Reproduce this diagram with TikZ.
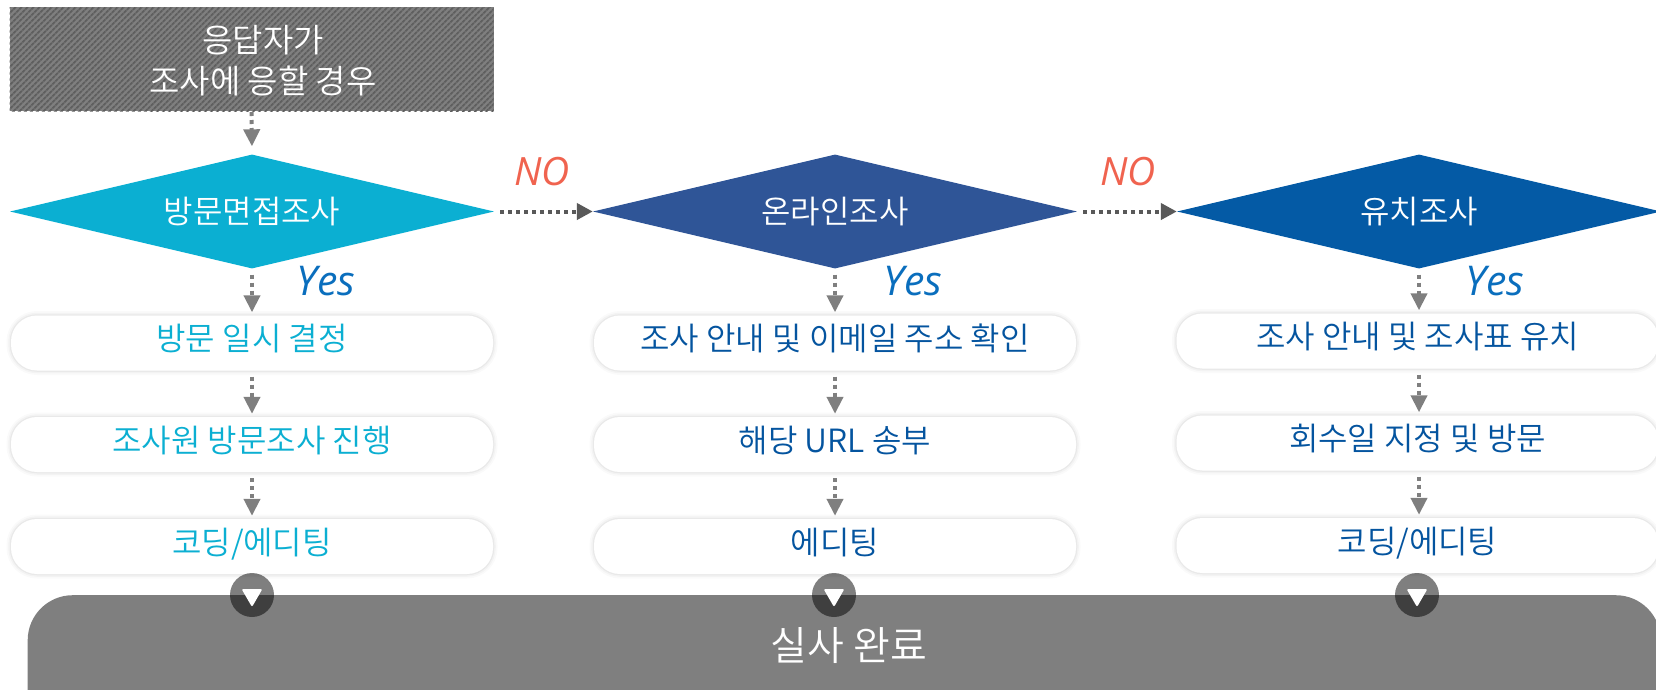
\documentclass[tikz,border=0pt]{standalone}
\usepackage{fontspec}
\setmainfont{Noto Sans CJK KR}[UprightFont={* DemiLight}]
\newfontfamily\latinit{Open Sans}
\usetikzlibrary{shapes.geometric,arrows.meta,patterns.meta}
\definecolor{cyanc}{HTML}{0BAFD2}
\definecolor{bluea}{HTML}{2F5597}
\definecolor{blueb}{HTML}{045AA5}
\definecolor{txtb}{HTML}{04549F}
\definecolor{grayd}{HTML}{7F7F7F}
\definecolor{grayh}{HTML}{595959}
\definecolor{noc}{HTML}{F0634F}
\definecolor{yesc}{HTML}{0A6EBD}
\tikzset{
 dia/.style={diamond,draw=none,fill=#1,minimum width=484pt,minimum height=114pt,inner sep=0pt,aspect=4.2,text=white,font=\fontsize{32}{36}\selectfont},
 pill/.style={rounded corners=26pt,rectangle,minimum width=482pt,minimum height=55pt,inner sep=0pt,fill=white,text=#1,text height=22pt,text depth=7pt,font=\fontsize{32}{36}\selectfont,
  preaction={draw=black,draw opacity=.018,line width=9pt,rounded corners=26pt},
  preaction={draw=black,draw opacity=.028,line width=5.5pt,rounded corners=26pt},
  preaction={draw=black,draw opacity=.045,line width=2.5pt,rounded corners=26pt}},
 vflow/.style={grayd,line width=4pt,dash pattern=on 4pt off 4pt,shorten <=6pt,shorten >=3pt,-{Triangle[length=17pt,width=16pt,sep=0pt]}},
 hflow/.style={grayh,line width=4pt,dash pattern=on 3.5pt off 4.5pt,shorten <=6pt,-{Triangle[length=16pt,width=16pt]}},
 nolab/.style={text=noc,font=\latinit\itshape\fontsize{39}{42}\selectfont},
 yeslab/.style={text=yesc,font=\latinit\itshape\fontsize{41}{44}\selectfont},
 knob/.style={circle,minimum size=44pt,inner sep=0pt,fill=black,fill opacity=.5},
 knobtip/.style={regular polygon,regular polygon sides=3,shape border rotate=180,fill=white,draw=white,line join=round,line width=2pt,minimum size=20pt,inner sep=0pt},
}
\begin{document}
\begin{tikzpicture}[x=1pt,y=-1pt]
\useasboundingbox (0,0) rectangle (1656,689);
\clip (0,0) rectangle (1656,691);
% top box
\node[rectangle,minimum width=484pt,minimum height=104pt,inner sep=0pt,
  pattern={Lines[angle=45,distance=4pt,line width=2pt]},pattern color=grayh!85!grayd,
  preaction={fill=grayd}] (start) at (251.5,59) {};
\node[text=white,align=center,font=\fontsize{33}{41}\selectfont] (starttext) at (263,60.5) {응답자가\\조사에 응할 경우};
% diamonds
\node[dia=cyanc] (d1) at (252,211.5) {방문면접조사};
\node[dia=bluea] (d2) at (835,211.5) {온라인조사};
\node[dia=blueb] (d3) at (1419,211.5) {유치조사};
% pills
\node[pill=cyanc] (a1) at (252,343) {방문 일시 결정};
\node[pill=cyanc] (a2) at (252,444.5) {조사원 방문조사 진행};
\node[pill=cyanc] (a3) at (252,546.5) {코딩/에디팅};
\node[pill=txtb] (b1) at (835,343) {조사 안내 및 이메일 주소 확인};
\node[pill=txtb] (b2) at (835,444.5) {해당 URL 송부};
\node[pill=txtb] (b3) at (835,546.5) {에디팅};
\node[pill=txtb] (c1) at (1417.5,341) {조사 안내 및 조사표 유치};
\node[pill=txtb] (c2) at (1417.5,443) {회수일 지정 및 방문};
\node[pill=txtb] (c3) at (1417.5,545.5) {코딩/에디팅};
% connectors
\draw[vflow,shorten <=0pt,shorten >=8pt] (start.south) -- (d1.north);
\draw[hflow] (d1.east) -- (d2.west);
\draw[hflow] (d2.east) -- (d3.west);
\draw[vflow] (d1.south) -- (a1.north);
\draw[vflow] (a1.south) -- (a2.north);
\draw[vflow] (a2.south) -- (a3.north);
\draw[vflow] (d2.south) -- (b1.north);
\draw[vflow] (b1.south) -- (b2.north);
\draw[vflow] (b2.south) -- (b3.north);
\draw[vflow] (d3.south) -- (d3.south |- c1.north);
\draw[vflow] (d3.south |- c1.south) -- (d3.south |- c2.north);
\draw[vflow] (d3.south |- c2.south) -- (d3.south |- c3.north);
% labels
\node[nolab] (no1) at (542,172) {NO};
\node[nolab] (no2) at (1128,172) {NO};
\node[yeslab] (y1) at (326,281) {Yes};
\node[yeslab] (y2) at (913,281) {Yes};
\node[yeslab] (y3) at (1495,281) {Yes};
% bottom
\node[rectangle,rounded corners=45pt,fill=grayd,minimum width=1633pt,minimum height=220pt,inner sep=0pt,anchor=north west] (done) at (27.5,595) {};
\node[text=white,font=\fontsize{40}{46}\selectfont] (donetext) at (849,646) {실사 완료};
% knobs
\node[knob] (k1) at (252,595) {};
\node[knob] (k2) at (834,595) {};
\node[knob] (k3) at (1417,595) {};
\node[knobtip] at (k1) {};
\node[knobtip] at (k2) {};
\node[knobtip] at (k3) {};
\end{tikzpicture}
\end{document}
